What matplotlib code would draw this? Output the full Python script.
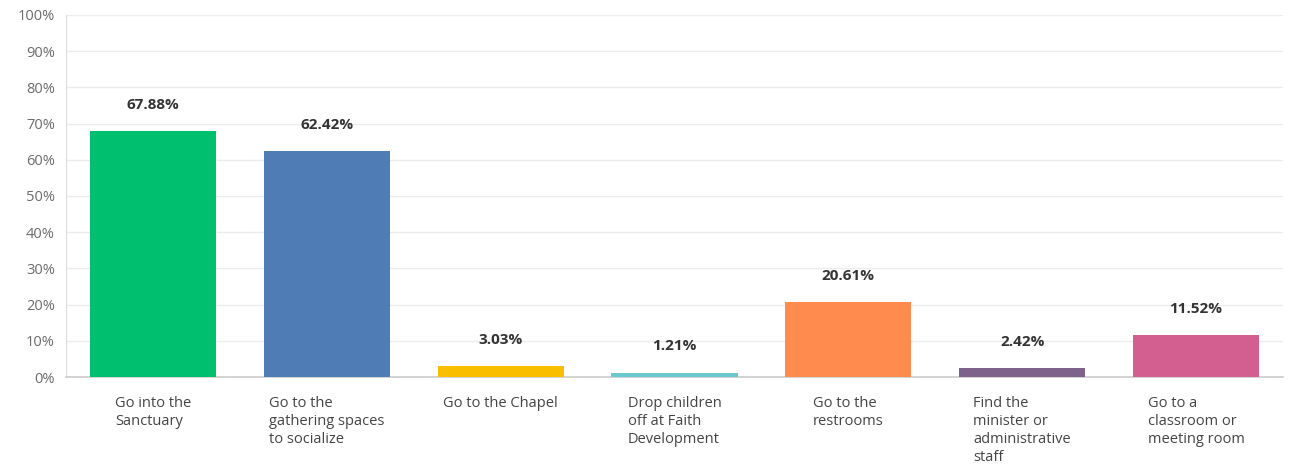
import matplotlib.pyplot as plt

# survey answers and their share of respondents
categories = [
    "Go into the\nSanctuary",
    "Go to the\ngathering spaces\nto socialize",
    "Go to the Chapel",
    "Drop children\noff at Faith\nDevelopment",
    "Go to the\nrestrooms",
    "Find the\nminister or\nadministrative\nstaff",
    "Go to a\nclassroom or\nmeeting room",
]
values = [67.88, 62.42, 3.03, 1.21, 20.61, 2.42, 11.52]
colors = ["#00BF6F", "#507CB6", "#F9BE00", "#6BC8CD", "#FF8B4F", "#7F628B", "#D25F90"]
yticks = list(range(0, 101, 10))

plt.rcParams['font.family'] = ['Open Sans', 'DejaVu Sans']

fig = plt.figure(figsize=(12.91, 4.68), dpi=100)
ax = fig.add_axes([0.0511, 0.1944, 0.9427, 0.7736])

x = list(range(len(values)))
bars = ax.bar(x, values, width=0.725, color=colors, zorder=3)

for b, v in zip(bars, values):
    ax.annotate(f"{v:.2f}%", (b.get_x() + b.get_width() / 2, v),
                xytext=(0, 19), textcoords='offset points',
                ha='center', va='center', fontsize=11,
                fontweight='bold', color='#333333')

ax.set_xlim(-0.5, len(values) - 0.5)
ax.set_ylim(0, 100)
ax.set_yticks(yticks)
ax.set_yticklabels([f"{t}%" for t in yticks], fontsize=10.5, color='#6b6b6b')
ax.set_xticks(x)
ax.set_xticklabels(categories, fontsize=10.5, color='#444444',
                   ha='center', multialignment='left', linespacing=1.27)
ax.tick_params(axis='both', length=0)
ax.tick_params(axis='x', pad=14)
ax.tick_params(axis='y', pad=8)

ax.grid(axis='y', color='#ececec', linewidth=1, zorder=0)
for s in ['top', 'right']:
    ax.spines[s].set_visible(False)
ax.spines['left'].set_color('#dddddd')
ax.spines['bottom'].set_color('#cccccc')
ax.spines['bottom'].set_linewidth(1.2)

fig.savefig('out.png', dpi=100)
